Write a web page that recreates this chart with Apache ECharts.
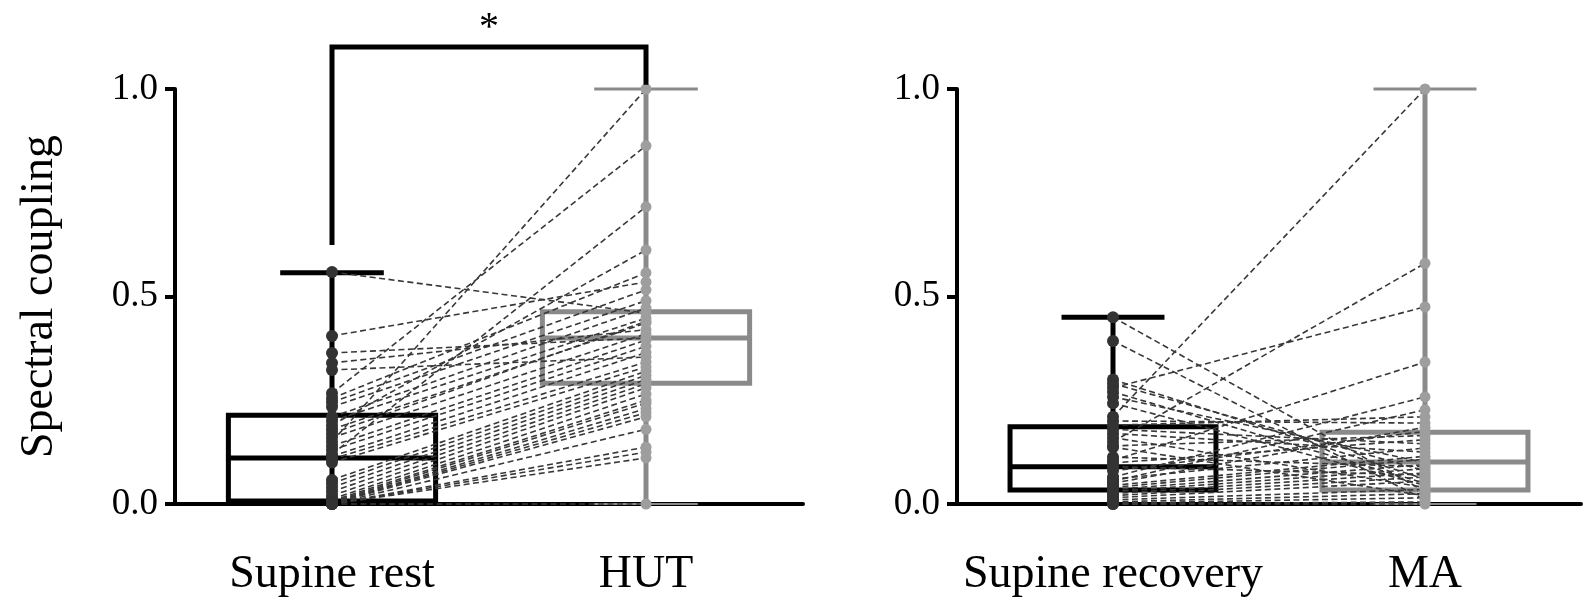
<!DOCTYPE html>
<html>
<head>
<meta charset="utf-8">
<script src="https://cdn.jsdelivr.net/npm/echarts@6/dist/echarts.min.js"></script>
<style>
  html, body { margin: 0; padding: 0; background: #fff; }
  #chart { width: 1596px; height: 603px; }
</style>
</head>
<body>
<div id="chart"></div>
<script>
const leftCategories = ['Supine rest', 'HUT']
const rightCategories = ['Supine recovery', 'MA']
const yTicks = [0, 0.5, 1.0]

// paired values, one entry per subject
const supineRest = [0.559, 0.405, 0.364, 0.340, 0.323, 0.267, 0.255, 0.245, 0.234, 0.210,
  0.200, 0.190, 0.180, 0.170, 0.160, 0.150, 0.140, 0.130, 0.120, 0.115,
  0.108, 0.100, 0.058, 0.050, 0.040, 0.030, 0.020, 0.012, 0.008, 0.005,
  0.003, 0.002, 0.001, 0.000, 0.000, 0.000, 0.000, 0.000]
const hut = [0.460, 0.535, 0.400, 0.420, 0.354, 0.863, 0.557, 0.516, 0.490, 0.472,
  0.448, 0.612, 0.436, 0.440, 0.410, 1.000, 0.395, 0.380, 0.716, 0.365,
  0.342, 0.330, 0.320, 0.310, 0.300, 0.290, 0.280, 0.265, 0.250, 0.243,
  0.230, 0.220, 0.210, 0.180, 0.137, 0.125, 0.111, 0.000]
const supineRecovery = [0.450, 0.393, 0.300, 0.290, 0.280, 0.270, 0.258, 0.243, 0.210, 0.200,
  0.190, 0.180, 0.170, 0.160, 0.150, 0.140, 0.137, 0.113, 0.105, 0.099,
  0.090, 0.080, 0.065, 0.060, 0.055, 0.050, 0.045, 0.040, 0.035, 0.030,
  0.025, 0.020, 0.015, 0.010, 0.005, 0.002, 0.000, 0.000]
const ma = [0.030, 0.010, 0.060, 0.080, 0.475, 0.050, 0.100, 0.045, 1.000, 0.195,
  0.210, 0.145, 0.125, 0.040, 0.580, 0.165, 0.020, 0.090, 0.342, 0.155,
  0.070, 0.175, 0.258, 0.135, 0.227, 0.185, 0.115, 0.108, 0.095, 0.085,
  0.075, 0.065, 0.055, 0.035, 0.025, 0.015, 0.005, 0.000]

// box stats: [min, Q1, median, Q3, max]
const supineRestBox = [0, 0.007, 0.111, 0.214, 0.557]
const hutBox = [0, 0.291, 0.400, 0.463, 1.0]
const supineRecoveryBox = [0, 0.034, 0.090, 0.186, 0.450]
const maBox = [0, 0.034, 0.101, 0.173, 1.0]

// significance bracket (left leg end, top, right leg end) and star
const bracketLevels = [0.624, 1.101, 1.01]
const starLevel = 1.145

const FONT = '"Liberation Serif", "Times New Roman", serif'
const BLACK = '#000'
const GREY = '#8a8a8a'

const chart = echarts.init(document.getElementById('chart'))

const boxRender = (params, api) => {
  const idx = api.value(0)
  const color = idx === 0 ? BLACK : GREY
  const band = api.size([1, 0])[0]
  const half = band * 0.33
  const capHalf = band * 0.165
  const pMin = api.coord([idx, api.value(1)])
  const pQ1 = api.coord([idx, api.value(2)])
  const pMed = api.coord([idx, api.value(3)])
  const pQ3 = api.coord([idx, api.value(4)])
  const pMax = api.coord([idx, api.value(5)])
  const cx = pMed[0]
  const capW = idx === 0 ? 5 : 3
  return {
    type: 'group',
    children: [
      { type: 'line', shape: { x1: cx, y1: pMax[1], x2: cx, y2: pMin[1] }, style: { stroke: color, lineWidth: 5 } },
      { type: 'rect', shape: { x: cx - half, y: pQ3[1], width: half * 2, height: pQ1[1] - pQ3[1] }, style: { fill: 'none', stroke: color, lineWidth: 5 } },
      { type: 'line', shape: { x1: cx - half, y1: pMed[1], x2: cx + half, y2: pMed[1] }, style: { stroke: color, lineWidth: 5 } },
      { type: 'line', shape: { x1: cx - capHalf, y1: pMax[1], x2: cx + capHalf, y2: pMax[1] }, style: { stroke: color, lineWidth: capW } },
      { type: 'line', shape: { x1: cx - capHalf, y1: pMin[1], x2: cx + capHalf, y2: pMin[1] }, style: { stroke: color, lineWidth: 2 } }
    ]
  }
}

const pairRender = (params, api) => {
  const a = api.coord([0, api.value(1)])
  const b = api.coord([1, api.value(2)])
  return {
    type: 'line',
    shape: { x1: a[0], y1: a[1], x2: b[0], y2: b[1] },
    style: { stroke: '#383838', lineWidth: 1.6, lineDash: [6, 3.5] }
  }
}

const bracketRender = (params, api) => {
  const p0 = api.coord([0, api.value(1)])
  const p1 = api.coord([0, api.value(2)])
  const p2 = api.coord([1, api.value(2)])
  const p3 = api.coord([1, api.value(3)])
  const s = api.coord([0, api.value(4)])
  return {
    type: 'group',
    children: [
      { type: 'polyline', shape: { points: [p0, p1, p2, p3] }, style: { stroke: BLACK, lineWidth: 5, fill: 'none' } },
      { type: 'text', style: { text: '*', x: (p1[0] + p2[0]) / 2, y: s[1], fontSize: 40, fontFamily: FONT, fill: BLACK, align: 'center', verticalAlign: 'middle' } }
    ]
  }
}

const makeYAxis = (gridIndex, withName) => ({
  type: 'value',
  gridIndex: gridIndex,
  min: 0,
  max: 1,
  interval: 0.5,
  name: withName ? 'Spectral coupling' : '',
  nameLocation: 'middle',
  nameRotate: 90,
  nameGap: 112,
  nameTextStyle: { fontFamily: FONT, fontSize: 46, color: BLACK },
  axisLine: { show: true, lineStyle: { color: BLACK, width: 4 } },
  axisTick: { show: true, length: 10, lineStyle: { color: BLACK, width: 4 } },
  axisLabel: {
    fontFamily: FONT, fontSize: 37, color: BLACK, margin: 17,
    formatter: (v) => (yTicks.includes(v) ? v.toFixed(1) : '')
  },
  splitLine: { show: false }
})

const makeXAxis = (gridIndex, cats) => ({
  type: 'category',
  gridIndex: gridIndex,
  data: cats,
  axisLine: { show: true, lineStyle: { color: BLACK, width: 4 } },
  axisTick: { show: false },
  axisLabel: { fontFamily: FONT, fontSize: 46, color: BLACK, margin: 48, interval: 0 },
  splitLine: { show: false }
})

const panelSeries = (axisIndex, firstVals, secondVals, firstBox, secondBox) => [
  {
    type: 'custom',
    xAxisIndex: axisIndex, yAxisIndex: axisIndex,
    renderItem: boxRender,
    encode: { x: 0, y: [1, 2, 3, 4, 5] },
    data: [[0].concat(firstBox), [1].concat(secondBox)],
    z: 1
  },
  {
    type: 'custom',
    xAxisIndex: axisIndex, yAxisIndex: axisIndex,
    renderItem: pairRender,
    encode: { x: 0, y: [1, 2] },
    data: firstVals.map((v, i) => [0, v, secondVals[i]]),
    z: 2
  },
  {
    type: 'scatter',
    xAxisIndex: axisIndex, yAxisIndex: axisIndex,
    symbolSize: 12,
    itemStyle: { color: '#333', opacity: 1 },
    data: firstVals.map((v) => [0, v]),
    z: 3
  },
  {
    type: 'scatter',
    xAxisIndex: axisIndex, yAxisIndex: axisIndex,
    symbolSize: 11,
    itemStyle: { color: '#9e9e9e', opacity: 1 },
    data: secondVals.map((v) => [1, v]),
    z: 3
  }
]

const option = {
  animation: false,
  backgroundColor: '#fff',
  grid: [
    { left: 175, width: 628, top: 89, height: 415 },
    { left: 957, width: 624, top: 89, height: 415 }
  ],
  xAxis: [makeXAxis(0, leftCategories), makeXAxis(1, rightCategories)],
  yAxis: [makeYAxis(0, true), makeYAxis(1, false)],
  series: [
    ...panelSeries(0, supineRest, hut, supineRestBox, hutBox),
    ...panelSeries(1, supineRecovery, ma, supineRecoveryBox, maBox),
    {
      type: 'custom',
      xAxisIndex: 0, yAxisIndex: 0,
      renderItem: bracketRender,
      encode: { x: 0, y: [1, 2, 3, 4] },
      data: [[0].concat(bracketLevels, [starLevel])],
      z: 4
    }
  ]
}

chart.setOption(option)
</script>
</body>
</html>
